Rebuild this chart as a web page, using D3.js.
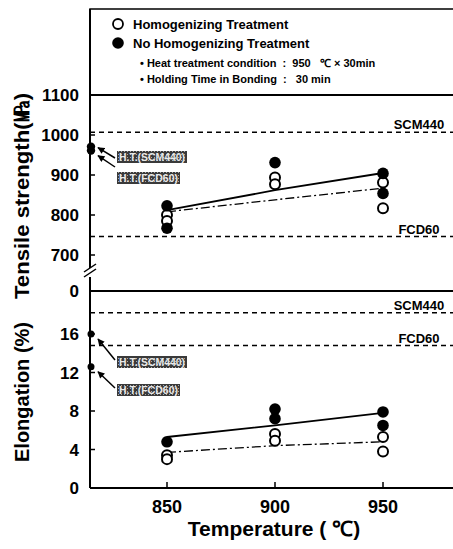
<!DOCTYPE html>
<html>
<head>
<meta charset="utf-8">
<script src="https://cdn.jsdelivr.net/npm/d3@7"></script>
<style>
  body { margin: 0; background: #fff; }
  svg text { font-family: "Liberation Sans", Arial, sans-serif; font-weight: bold; fill: #000; white-space: pre; }
</style>
</head>
<body>
<div id="chart"></div>
<script>
// Temperatures (C)
const temps = [850, 900, 950];

// Tensile strength (MPa) per temperature
const tensileHomog = [[800, 785], [894, 877], [881, 817]];
const tensileNoHomog = [[823, 767], [931], [904, 854]];
const tensileFitNo = [812, 862, 905];
const tensileFitHomog = [808, 838, 867];
const tensileHT = [971, 961];
const tensileRefs = [{ name: "SCM440", value: 1007 }, { name: "FCD60", value: 746 }];
const tensileTicks = [700, 800, 900, 1000, 1100];

// Elongation (%) per temperature
const elongHomog = [[3.4, 3.0], [5.6, 4.9], [5.3, 3.8]];
const elongNoHomog = [[4.8], [8.2, 7.2], [7.9, 6.5]];
const elongFitNo = [5.3, 6.5, 7.8];
const elongFitHomog = [3.7, 4.4, 4.8];
const elongHT = [16, 12.6];
const elongRefs = [{ name: "SCM440", value: 18.2 }, { name: "FCD60", value: 14.8 }];
const elongTicks = [0, 4, 8, 12, 16];

const xTicks = [850, 900, 950];
const htLabels = ["H.T.(SCM440)", "H.T.(FCD60)"];

const W = 453, H = 549;
const axisX = 90, rightX = 453;

const svg = d3.select("#chart").append("svg").attr("width", W).attr("height", H);

const x = d3.scaleLinear().domain([850, 950]).range([167, 383]);
const yT = d3.scaleLinear().domain([700, 1100]).range([255, 95]);
const yE = d3.scaleLinear().domain([0, 16]).range([488, 334]);
const sepY = 291;

const defs = svg.append("defs");
// hatched texture for the H.T. labels
const pat = defs.append("pattern").attr("id", "hatch").attr("patternUnits", "userSpaceOnUse")
  .attr("width", 3).attr("height", 3);
pat.append("rect").attr("width", 3).attr("height", 3).attr("fill", "#3a3a3a");
pat.append("rect").attr("x", 1).attr("y", 1).attr("width", 1).attr("height", 1).attr("fill", "#aaa");
// arrow head
defs.append("marker").attr("id", "arrow").attr("viewBox", "0 0 10 10").attr("refX", 9).attr("refY", 5)
  .attr("markerWidth", 8).attr("markerHeight", 7).attr("markerUnits", "userSpaceOnUse").attr("orient", "auto")
  .append("path").attr("d", "M0,0 L10,5 L0,10 z").attr("fill", "#000");

// Frame lines
const frame = svg.append("g").attr("stroke", "#000").attr("fill", "none");
frame.append("rect").attr("x", axisX).attr("y", 9).attr("width", rightX - axisX + 2).attr("height", 86).attr("stroke-width", 1.5);
frame.append("line").attr("x1", axisX).attr("x2", rightX).attr("y1", yT(1100)).attr("y2", yT(1100)).attr("stroke-width", 2);
frame.append("line").attr("x1", axisX).attr("x2", rightX).attr("y1", sepY).attr("y2", sepY).attr("stroke-width", 2);
frame.append("line").attr("x1", axisX).attr("x2", rightX).attr("y1", yE(0)).attr("y2", yE(0)).attr("stroke-width", 2);
// left axis with break
frame.append("line").attr("x1", axisX).attr("x2", axisX).attr("y1", 9).attr("y2", 268).attr("stroke-width", 2);
frame.append("line").attr("x1", axisX).attr("x2", axisX).attr("y1", 277).attr("y2", yE(0)).attr("stroke-width", 2);
frame.append("line").attr("x1", 84).attr("x2", 96).attr("y1", 272).attr("y2", 264).attr("stroke-width", 1.5);
frame.append("line").attr("x1", 84).attr("x2", 96).attr("y1", 277).attr("y2", 269).attr("stroke-width", 1.5);

// Left ticks (inside)
const tickG = svg.append("g").attr("stroke", "#000").attr("stroke-width", 1.5);
tickG.selectAll(".tt").data(tensileTicks).join("line")
  .attr("x1", axisX).attr("x2", axisX + 5).attr("y1", d => yT(d)).attr("y2", d => yT(d));
tickG.selectAll(".te").data(elongTicks.filter(d => d > 0)).join("line")
  .attr("x1", axisX).attr("x2", axisX + 5).attr("y1", d => yE(d)).attr("y2", d => yE(d));
tickG.selectAll(".tx").data(xTicks).join("line")
  .attr("x1", d => x(d)).attr("x2", d => x(d)).attr("y1", yE(0)).attr("y2", yE(0) - 6);

// Tick labels
const lab = svg.append("g").attr("font-size", 17).attr("text-anchor", "end");
lab.selectAll(".lt").data(tensileTicks).join("text")
  .attr("x", 79).attr("y", d => yT(d) + 6).text(d => d);
lab.append("text").attr("x", 79).attr("y", sepY + 6).text("0");
lab.selectAll(".le").data(elongTicks).join("text")
  .attr("x", 79).attr("y", d => yE(d) + 6).text(d => d);
svg.append("g").attr("font-size", 18).attr("text-anchor", "middle")
  .selectAll("text").data(xTicks).join("text")
  .attr("x", d => x(d)).attr("y", 513).text(d => d);

// Axis titles
svg.append("text").attr("x", 274).attr("y", 536).attr("text-anchor", "middle").attr("font-size", 21)
  .text("Temperature ( ℃)");
svg.append("text").attr("transform", "translate(29,196) rotate(-90)").attr("text-anchor", "middle")
  .attr("font-size", 21).attr("textLength", 206).attr("lengthAdjust", "spacingAndGlyphs")
  .text("Tensile strength(㎫)");
svg.append("text").attr("transform", "translate(29,392) rotate(-90)").attr("text-anchor", "middle")
  .attr("font-size", 21).attr("textLength", 140).attr("lengthAdjust", "spacingAndGlyphs")
  .text("Elongation (%)");

// Reference lines
function refLines(refs, y) {
  const g = svg.append("g");
  g.selectAll("line").data(refs).join("line")
    .attr("x1", axisX).attr("x2", rightX).attr("y1", d => y(d.value)).attr("y2", d => y(d.value))
    .attr("stroke", "#000").attr("stroke-width", 1.5).attr("stroke-dasharray", "5,4");
  g.selectAll("text").data(refs).join("text")
    .attr("x", 419).attr("y", d => y(d.value) - 3)
    .attr("text-anchor", "middle").attr("font-size", 13).text(d => d.name);
}
refLines(tensileRefs, yT);
refLines(elongRefs, yE);

// Fit lines
function fitLine(vals, y, dash) {
  svg.append("path").datum(vals)
    .attr("d", d3.line().x((d, i) => x(temps[i])).y(d => y(d)))
    .attr("fill", "none").attr("stroke", "#000").attr("stroke-width", dash ? 1.3 : 1.8)
    .attr("stroke-dasharray", dash ? "9,3,2,3" : null);
}
fitLine(tensileFitNo, yT, false);
fitLine(tensileFitHomog, yT, true);
fitLine(elongFitNo, yE, false);
fitLine(elongFitHomog, yE, true);

// Points
function points(groups, y, filled) {
  const pts = [];
  groups.forEach((vals, i) => vals.forEach(v => pts.push({ t: temps[i], v })));
  svg.append("g").selectAll("circle").data(pts).join("circle")
    .attr("cx", d => x(d.t)).attr("cy", d => y(d.v)).attr("r", filled ? 5.8 : 5)
    .attr("fill", filled ? "#000" : "#fff").attr("stroke", "#000").attr("stroke-width", filled ? 0 : 2);
}
points(tensileHomog, yT, false);
points(tensileNoHomog, yT, true);
points(elongHomog, yE, false);
points(elongNoHomog, yE, true);

// H.T. points on the axis with labels and arrows
function htMarks(vals, y, labelY, arrowStartY, arrowEndOff, r) {
  const g = svg.append("g");
  g.selectAll("circle").data(vals).join("circle")
    .attr("cx", axisX + 1).attr("cy", d => y(d)).attr("r", r).attr("fill", "#000");
  vals.forEach((v, i) => {
    const ly = labelY[i];
    const w = i === 0 ? 70 : 63;
    g.append("line").attr("x1", 115).attr("y1", arrowStartY[i]).attr("x2", 98).attr("y2", y(v) + arrowEndOff[i])
      .attr("stroke", "#000").attr("stroke-width", 1.5).attr("marker-end", "url(#arrow)");
    g.append("rect").attr("x", 117).attr("y", ly - 6).attr("width", w).attr("height", 12).attr("fill", "url(#hatch)");
    g.append("text").attr("x", 119).attr("y", ly + 4).attr("font-size", 10).attr("textLength", w - 4)
      .attr("lengthAdjust", "spacingAndGlyphs").style("fill", "#e8e8e8").text(htLabels[i]);
  });
}
htMarks(tensileHT, yT, [157, 178], [158, 167], [1, 5], 4.2);
htMarks(elongHT, yE, [362, 390], [360, 388], [5, 5], 3.5);

// Legend
const leg = svg.append("g");
leg.append("circle").attr("cx", 118).attr("cy", 24).attr("r", 5).attr("fill", "#fff").attr("stroke", "#000").attr("stroke-width", 1.8);
leg.append("circle").attr("cx", 118).attr("cy", 43).attr("r", 5.8).attr("fill", "#000");
leg.append("text").attr("x", 133).attr("y", 29).attr("font-size", 13).text("Homogenizing Treatment");
leg.append("text").attr("x", 133).attr("y", 48).attr("font-size", 13).text("No Homogenizing Treatment");
leg.append("text").attr("x", 140).attr("y", 67).attr("font-size", 11).text("• Heat treatment condition  :  950   ℃ × 30min");
leg.append("text").attr("x", 140).attr("y", 83).attr("font-size", 11).text("• Holding Time in Bonding  :   30 min");
</script>
</body>
</html>
